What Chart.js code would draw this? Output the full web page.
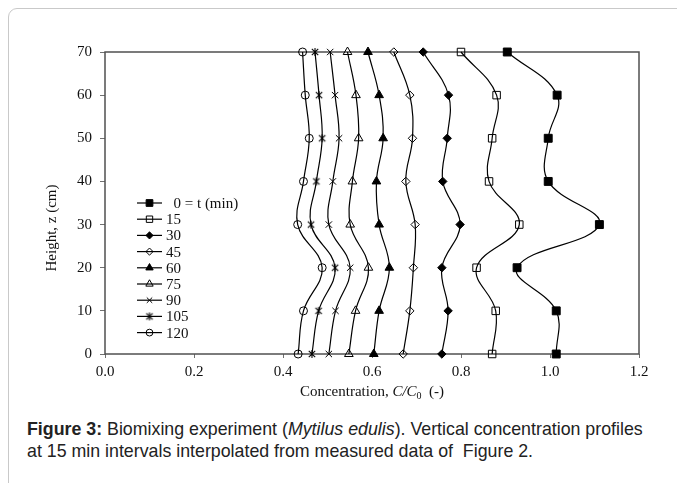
<!DOCTYPE html>
<html>
<head>
<meta charset="utf-8">
<script src="https://cdn.jsdelivr.net/npm/chart.js@4/dist/chart.umd.min.js"></script>
<style>
  html, body { margin: 0; padding: 0; background: #fff; }
  body { width: 677px; height: 483px; position: relative; overflow: hidden; }
  #frame {
    position: absolute; left: 8px; top: 8px; width: 720px; height: 520px;
    border: 1.5px solid #c9c9c9; border-radius: 9px;
  }
  #wrap { position: absolute; left: 0; top: 0; width: 677px; height: 410px; }
  #caption {
    position: absolute; left: 27px; top: 418px; width: 645px; white-space: nowrap;
    font-family: "Liberation Sans", Arial, sans-serif; font-size: 17.8px;
    line-height: 22px; color: #222;
  }
</style>
</head>
<body>
<div id="frame"></div>
<div id="wrap"><canvas id="chart" width="677" height="410"></canvas></div>
<div id="caption"><b>Figure 3:</b> Biomixing experiment (<i>Mytilus edulis</i>). Vertical concentration profiles<br>at 15 min intervals interpolated from measured data of&nbsp; Figure 2.</div>

<script>
// heights (cm) where the profiles were read, bottom to top
const heights = [0, 10, 20, 30, 40, 50, 60, 70];

// C/C0 at each height, one array per time (min)
const t0   = [1.014, 1.014, 0.926, 1.111, 0.996, 0.996, 1.016, 0.904];
const t15  = [0.870, 0.878, 0.835, 0.931, 0.863, 0.870, 0.880, 0.800];
const t30  = [0.757, 0.771, 0.757, 0.798, 0.759, 0.769, 0.772, 0.715];
const t45  = [0.670, 0.685, 0.693, 0.697, 0.676, 0.691, 0.685, 0.649];
const t60  = [0.604, 0.616, 0.639, 0.616, 0.610, 0.625, 0.616, 0.591];
const t75  = [0.548, 0.563, 0.592, 0.551, 0.556, 0.570, 0.564, 0.545];
const t90  = [0.503, 0.518, 0.551, 0.503, 0.512, 0.526, 0.517, 0.506];
const t105 = [0.465, 0.480, 0.517, 0.463, 0.475, 0.488, 0.481, 0.472];
const t120 = [0.434, 0.446, 0.488, 0.433, 0.446, 0.459, 0.450, 0.444];

const seriesLabels = ["  0 = t (min)", "15", "30", "45", "60", "75", "90", "105", "120"];
const seriesValues = [t0, t15, t30, t45, t60, t75, t90, t105, t120];

const xTicks = [0, 0.2, 0.4, 0.6, 0.8, 1.0, 1.2];
const yTicks = [0, 10, 20, 30, 40, 50, 60, 70];

const serif = '"Liberation Serif", "Times New Roman", serif';

// asterisk marker: an X with a vertical bar
function asterisk(size) {
  const c = document.createElement("canvas");
  c.width = size; c.height = size;
  const g = c.getContext("2d");
  const m = size / 2, r = size / 2 - 1;
  g.strokeStyle = "#000";
  g.lineWidth = 1.1;
  g.beginPath();
  g.moveTo(m - r * 0.8, m - r * 0.8); g.lineTo(m + r * 0.8, m + r * 0.8);
  g.moveTo(m + r * 0.8, m - r * 0.8); g.lineTo(m - r * 0.8, m + r * 0.8);
  g.moveTo(m, m - r); g.lineTo(m, m + r);
  g.stroke();
  return c;
}

const none = "rgba(0,0,0,0)";
const markers = [
  { style: "rect",     fill: "#000", r: 5.6 },
  { style: "rect",     fill: none,   r: 5.3 },
  { style: "rectRot",  fill: "#000", r: 4.2 },
  { style: "rectRot",  fill: none,   r: 4.2 },
  { style: "triangle", fill: "#000", r: 5 },
  { style: "triangle", fill: none,   r: 5 },
  { style: "crossRot", fill: none,   r: 4.5 },
  { style: asterisk(10), fill: none, r: 4.5 },
  { style: "circle",   fill: none,   r: 4 }
];

const datasets = seriesValues.map((vals, i) => ({
  label: seriesLabels[i],
  data: vals.map((v, k) => ({ x: v, y: heights[k] })),
  showLine: true,
  tension: 0.4,
  borderColor: "#000",
  borderWidth: 1.2,
  pointStyle: markers[i].style,
  pointRadius: markers[i].r,
  pointBackgroundColor: markers[i].fill,
  pointBorderColor: "#000",
  pointBorderWidth: 1,
  clip: false
}));

// frame, axis titles and the inside legend
const extras = {
  id: "extras",
  beforeDatasetsDraw(chart) {
    const { ctx, chartArea: a } = chart;
    ctx.save();
    ctx.strokeStyle = "#505050";
    ctx.lineWidth = 1.5;
    ctx.strokeRect(a.left, a.top, a.right - a.left, a.bottom - a.top);
    ctx.restore();
  },
  afterDraw(chart) {
    const ctx = chart.ctx;
    ctx.save();
    ctx.fillStyle = "#111";
    ctx.textBaseline = "middle";

    // y title
    ctx.save();
    ctx.translate(52, 228);
    ctx.rotate(-Math.PI / 2);
    ctx.textAlign = "center";
    ctx.font = "15px " + serif;
    ctx.fillText("Height, z (cm)", 0, 0);
    ctx.restore();

    // x title with italic C/C and subscript 0
    const parts = [
      { t: "Concentration, ", f: "15px " + serif, dy: 0 },
      { t: "C/C", f: "italic 15px " + serif, dy: 0 },
      { t: "0", f: "10px " + serif, dy: 4 },
      { t: "  (-)", f: "15px " + serif, dy: 0 }
    ];
    let w = 0;
    parts.forEach(p => { ctx.font = p.f; p.w = ctx.measureText(p.t).width; w += p.w; });
    let x = (chart.chartArea.left + chart.chartArea.right) / 2 - w / 2;
    ctx.textAlign = "left";
    parts.forEach(p => { ctx.font = p.f; ctx.fillText(p.t, x, 392 + p.dy); x += p.w; });

    // legend
    chart.data.datasets.forEach((ds, i) => {
      const y = 203 + i * 16.2;
      ctx.strokeStyle = "#000";
      ctx.lineWidth = 1.2;
      ctx.beginPath();
      ctx.moveTo(137, y); ctx.lineTo(162, y);
      ctx.stroke();
      ctx.fillStyle = ds.pointBackgroundColor;
      ctx.lineWidth = 1;
      Chart.helpers.drawPoint(ctx, { pointStyle: ds.pointStyle, radius: ds.pointRadius * 0.85, rotation: 0, borderWidth: 1 }, 149.5, y);
      ctx.fillStyle = "#111";
      ctx.font = "15px " + serif;
      ctx.fillText(ds.label, 166, y + 1);
    });
    ctx.restore();
  }
};

new Chart(document.getElementById("chart"), {
  type: "scatter",
  data: { datasets },
  options: {
    responsive: false,
    animation: false,
    layout: { padding: { top: 52, right: 38, left: 0, bottom: 0 } },
    plugins: { legend: { display: false }, tooltip: { enabled: false } },
    scales: {
      x: {
        type: "linear", min: 0, max: 1.2,
        afterBuildTicks: s => { s.ticks = xTicks.map(v => ({ value: v })); },
        afterFit: s => { s.height = 56; },
        border: { display: false },
        grid: { drawOnChartArea: false, drawTicks: true, tickLength: 4, color: "#707070", lineWidth: 1 },
        ticks: {
          autoSkip: false, maxRotation: 0, padding: 5, color: "#111",
          font: { family: serif, size: 15 },
          callback: v => v.toFixed(1)
        }
      },
      y: {
        type: "linear", min: 0, max: 70,
        afterBuildTicks: s => { s.ticks = yTicks.map(v => ({ value: v })); },
        afterFit: s => { s.width = 105; },
        border: { display: false },
        grid: { drawOnChartArea: false, drawTicks: true, tickLength: 5, color: "#707070", lineWidth: 1 },
        ticks: { padding: 8, color: "#111", font: { family: serif, size: 15 } }
      }
    }
  },
  plugins: [extras]
});
</script>
</body>
</html>
